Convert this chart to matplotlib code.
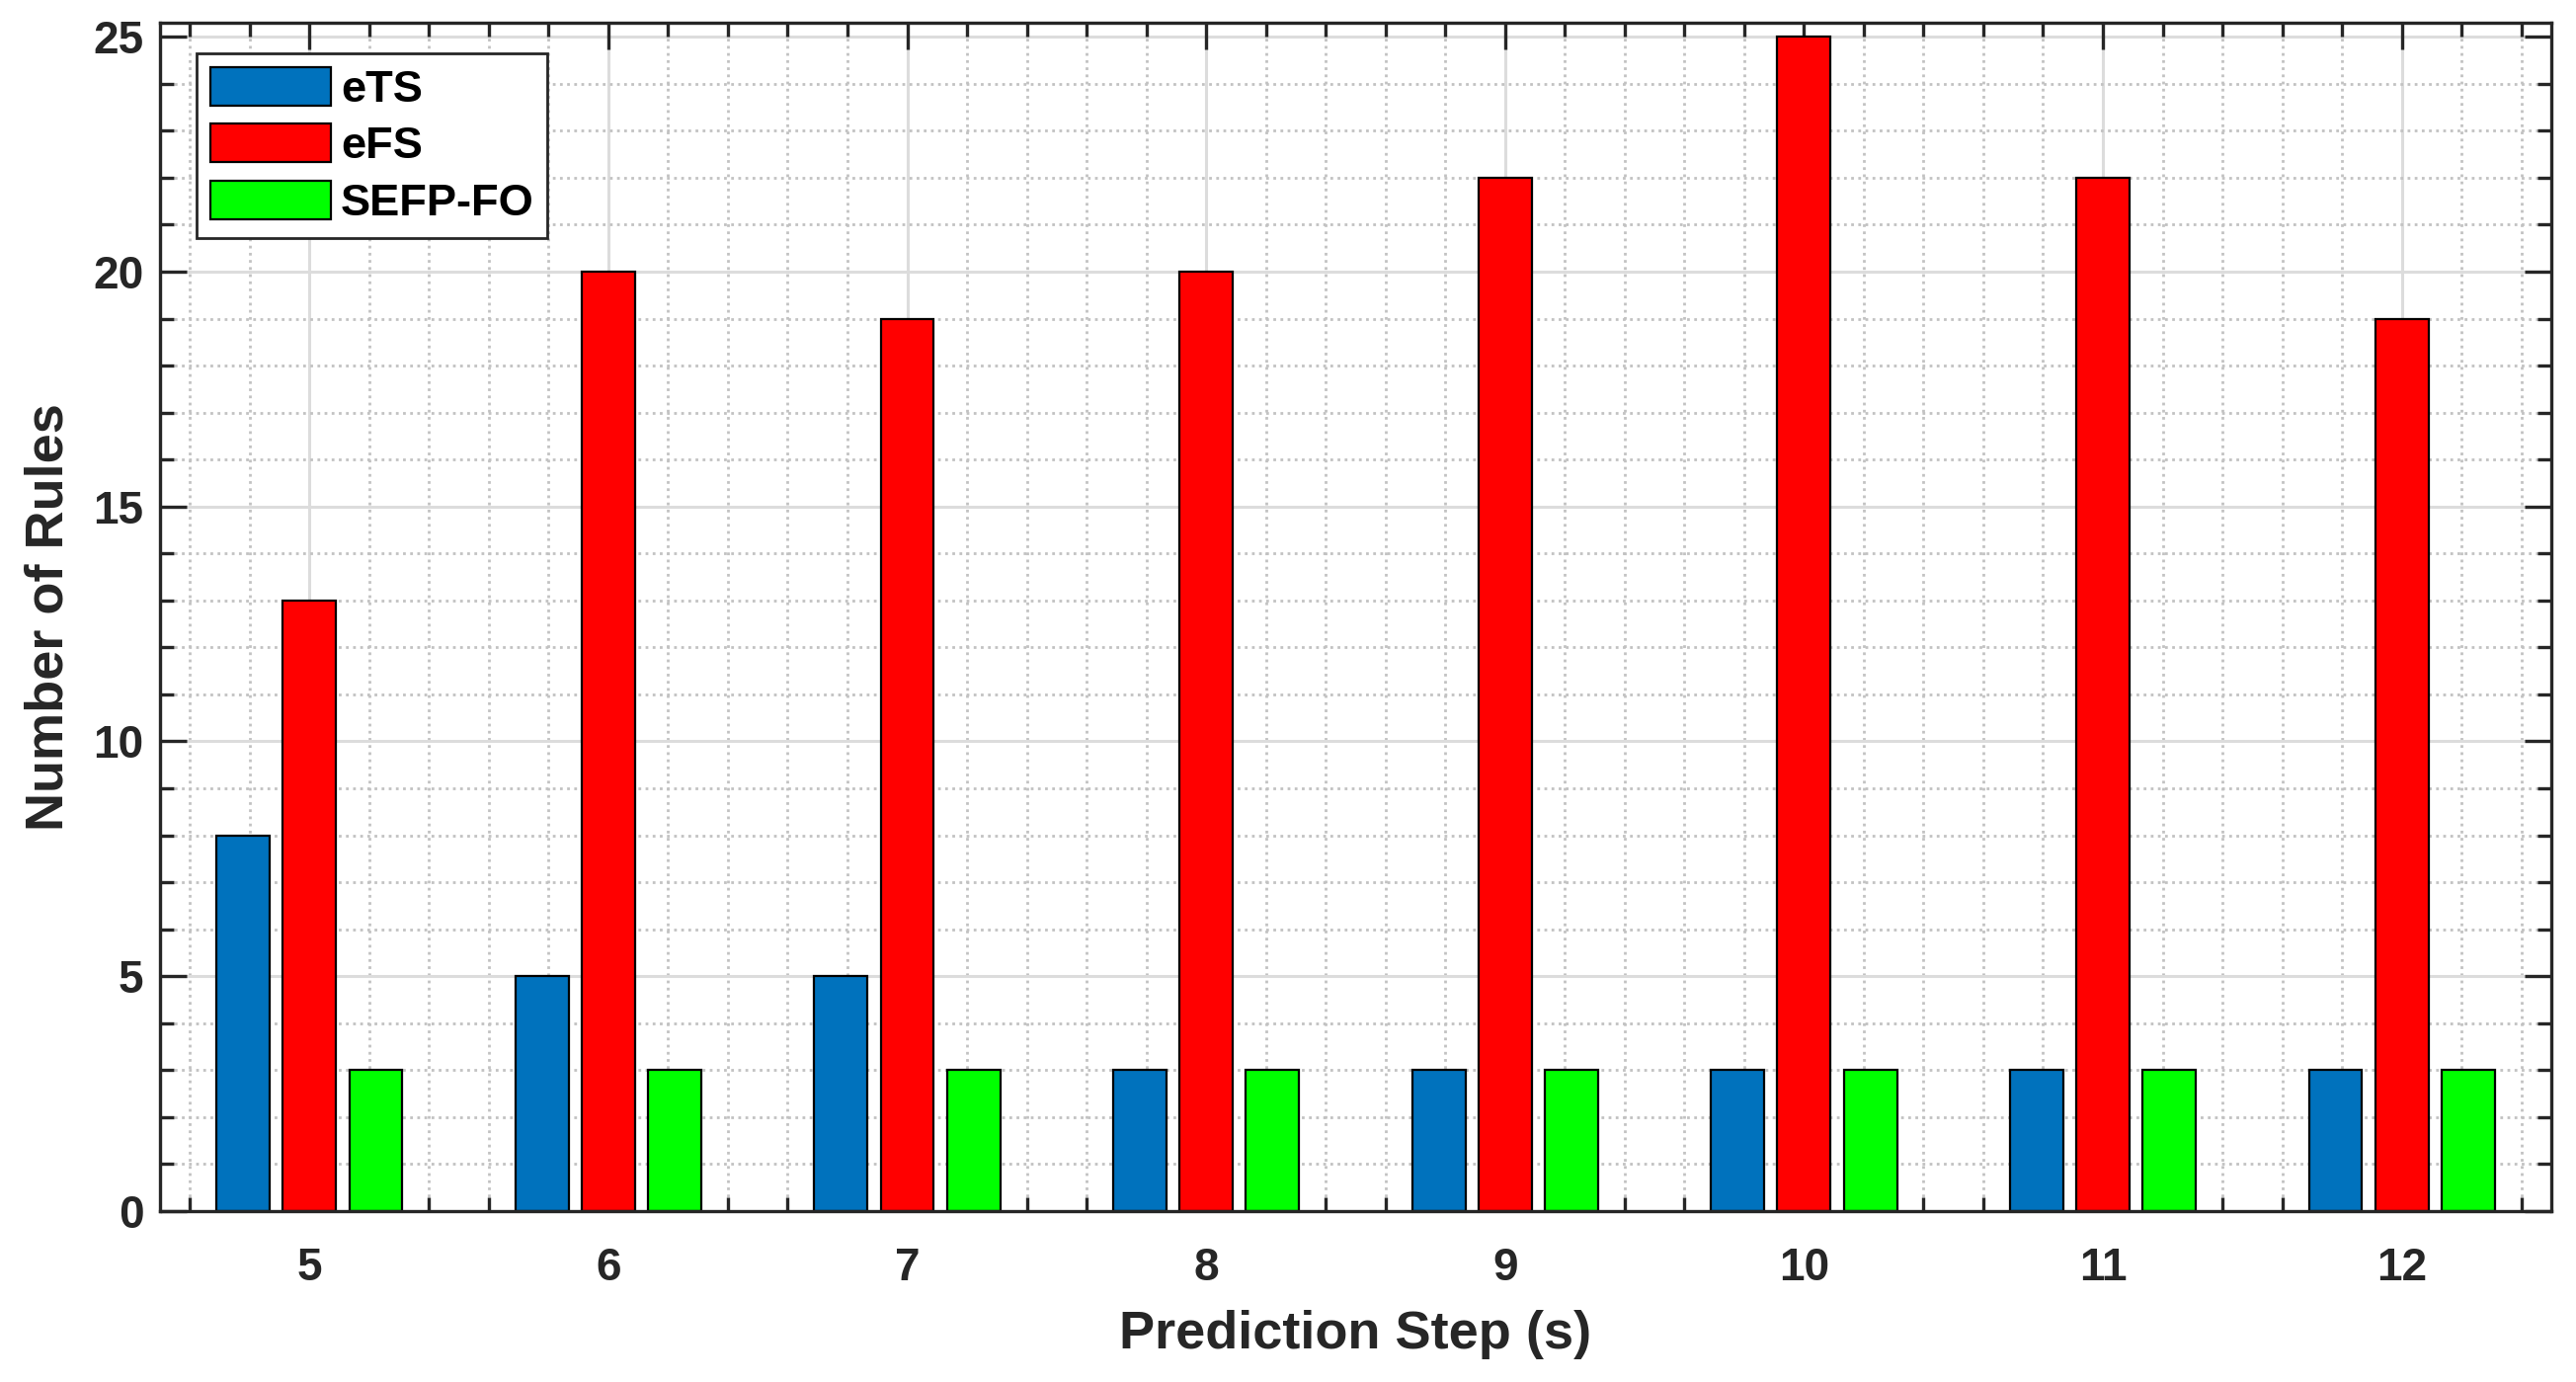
import numpy as np
import matplotlib
matplotlib.use("Agg")
import matplotlib.pyplot as plt
from matplotlib.ticker import MultipleLocator

steps = [5, 6, 7, 8, 9, 10, 11, 12]
ets = [8, 5, 5, 3, 3, 3, 3, 3]
efs = [13, 20, 19, 20, 22, 25, 22, 19]
sefp = [3, 3, 3, 3, 3, 3, 3, 3]
names = ["eTS", "eFS", "SEFP-FO"]
colors = ["#0072BD", "#FF0000", "#00FF00"]

plt.rcParams['font.family'] = ['Liberation Sans', 'DejaVu Sans']
plt.rcParams['font.weight'] = 'bold'
dark = "#262626"

fig = plt.figure(figsize=(13.04, 6.995), dpi=200)
ax = fig.add_axes([0.0621, 0.1237, 0.9283, 0.8599])

x = np.array(steps, dtype=float)
w = 0.178
for i, (vals, name, col) in enumerate(zip([ets, efs, sefp], names, colors)):
    ax.bar(x + (i - 1) * 0.222, vals, width=w, color=col, edgecolor="black",
           linewidth=0.8, label=name, zorder=2)

ax.set_xlim(4.5, 12.5)
ax.set_ylim(0, 25.3)
ax.set_xticks(steps)
ax.set_yticks([0, 5, 10, 15, 20, 25])
ax.xaxis.set_minor_locator(MultipleLocator(0.2))
ax.yaxis.set_minor_locator(MultipleLocator(1))

# grid drawn by hand so it stays behind the bars while ticks stay on top
for v in np.arange(4.6, 12.41, 0.2):
    if abs(v - round(v)) < 1e-6:
        ax.axvline(v, color="#dcdcdc", lw=1.1, zorder=0.5)
    else:
        ax.axvline(v, color="#c2c2c2", lw=1.0, ls=(0, (1, 1.6)), zorder=0.5)
for v in range(1, 26):
    if v % 5 == 0:
        ax.axhline(v, color="#dcdcdc", lw=1.1, zorder=0.5)
    else:
        ax.axhline(v, color="#c2c2c2", lw=1.0, ls=(0, (1, 1.6)), zorder=0.5)

ax.tick_params(which="both", direction="in", top=True, right=True,
               color=dark, width=1.2, labelcolor=dark, labelsize=16.5)
ax.tick_params(which="major", length=9.7)
ax.tick_params(which="minor", length=5)
ax.tick_params(axis="x", which="major", pad=13)
ax.tick_params(axis="y", which="major", pad=6)
for s in ax.spines.values():
    s.set_linewidth(1.2)
    s.set_color(dark)

ax.set_xlabel("Prediction Step (s)", fontsize=19.5, fontweight="bold", color=dark)
ax.set_ylabel("Number of Rules", fontsize=19.5, fontweight="bold", color=dark)
ax.xaxis.set_label_coords(0.5, -(1351 - 1226) / 1203)
ax.yaxis.set_label_coords(-(162 - 50) / 2421, 0.5)
ax.xaxis.label.set_va("center")
ax.yaxis.label.set_va("center")

leg = ax.legend(loc="upper left", bbox_to_anchor=(0.0153, 0.9742),
                borderaxespad=0, fontsize=16.3, handlelength=2.7,
                handleheight=0.95, handletextpad=0.22, labelspacing=0.3,
                borderpad=0.3, fancybox=False, framealpha=1)
leg.get_frame().set_edgecolor(dark)
leg.get_frame().set_linewidth(1.0)
leg.set_zorder(5)

fig.savefig("out.png", dpi=200)
